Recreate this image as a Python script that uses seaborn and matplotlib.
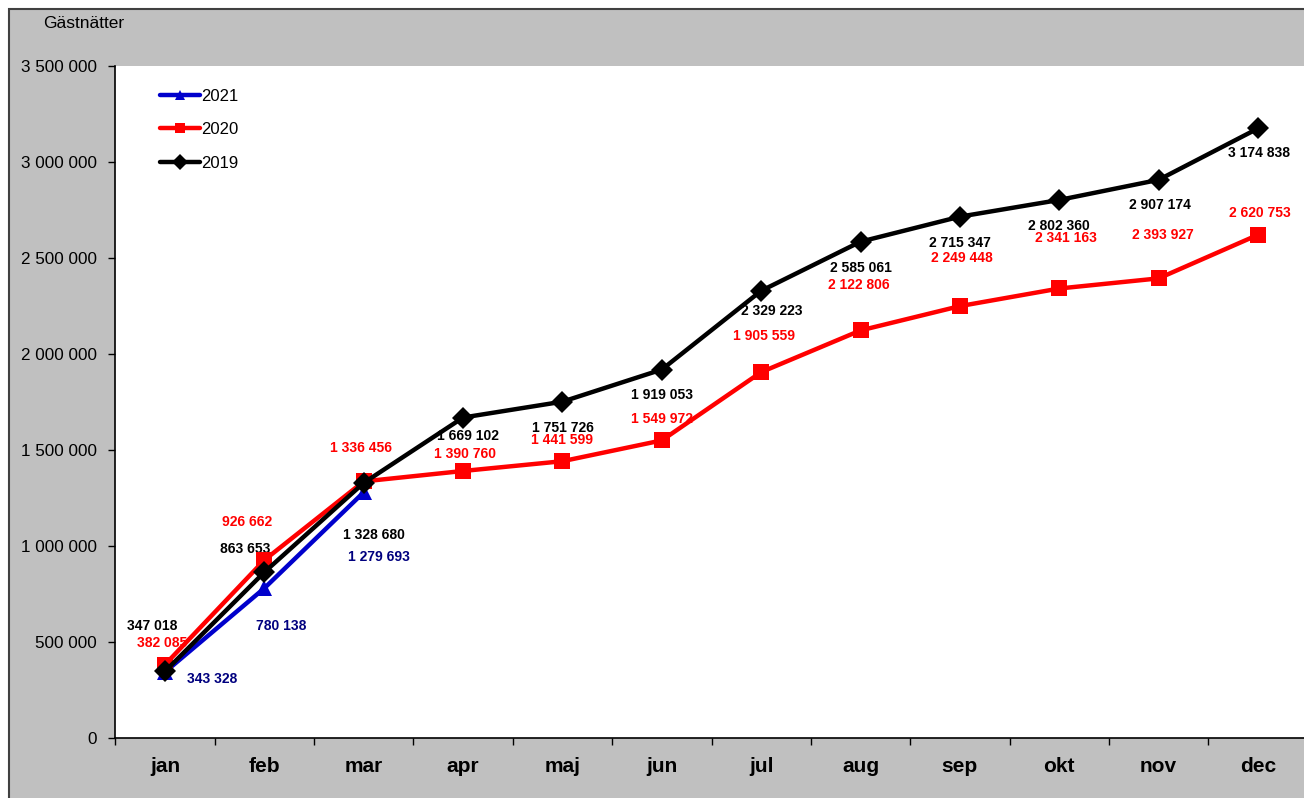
import numpy as np
import pandas as pd
import matplotlib
matplotlib.use("Agg")
import matplotlib.pyplot as plt
from matplotlib.patches import Rectangle
from matplotlib.ticker import FuncFormatter, FixedLocator
import seaborn as sns

# --- data ---
months = ["jan", "feb", "mar", "apr", "maj", "jun",
          "jul", "aug", "sep", "okt", "nov", "dec"]
years = ["2021", "2020", "2019"]
v2019 = [347018, 863653, 1328680, 1669102, 1751726, 1919053,
         2329223, 2585061, 2715347, 2802360, 2907174, 3174838]
v2020 = [382085, 926662, 1336456, 1390760, 1441599, 1549972,
         1905559, 2122806, 2249448, 2341163, 2393927, 2620753]
v2021 = [343328, 780138, 1279693]
yticks = [0, 500000, 1000000, 1500000, 2000000, 2500000, 3000000, 3500000]

# label offsets in pixels (dx, dy), placement only
off2019 = [(-13, 45), (-19, 23), (10, -52), (5, -18), (0, -26), (0, -25),
           (11, -20), (0, -26), (0, -26), (0, -26), (1, -25), (1, -25)]
off2020 = [(-3, 22), (-17, 38), (-3, 33), (2, 17), (0, 21), (0, 21),
           (3, 36), (-2, 45), (2, 48), (7, 50), (4, 43), (2, 22)]
off2021 = [(47, -7), (17, -38), (15, -65)]

series = {"2021": v2021, "2020": v2020, "2019": v2019}
offsets = {"2021": off2021, "2020": off2020, "2019": off2019}
line_colors = {"2021": "#0000CC", "2020": "#FF0000", "2019": "#000000"}
label_colors = {"2021": "#00007F", "2020": "#FF0000", "2019": "#000000"}
markers = {"2021": "^", "2020": "s", "2019": "D"}

rows = []
for yr in years:
    for i, v in enumerate(series[yr]):
        rows.append({"manad": i, "ar": yr, "gastnatter": v})
df = pd.DataFrame(rows)

sns.set_theme(style="white")
plt.rcParams["font.family"] = ["Liberation Sans", "DejaVu Sans"]
plt.rcParams["text.color"] = "black"

fig = plt.figure(figsize=(13.04, 7.98), dpi=100, facecolor="white")
W, H = 1304, 798
bg = Rectangle((9 / W, -0.01), 1.0, (H - 9) / H + 0.01,
               transform=fig.transFigure, facecolor="#C0C0C0",
               edgecolor="#404040", linewidth=1.5, zorder=-10)
fig.patches.append(bg)

ax = fig.add_axes([115.3 / W, (H - 738) / H, 1192.4 / W, 672 / H])
ax.set_facecolor("white")

sns.lineplot(data=df, x="manad", y="gastnatter", hue="ar", style="ar",
             hue_order=years, style_order=years, palette=line_colors,
             markers=markers, dashes=False, linewidth=3.2, markersize=11,
             markeredgewidth=0, ax=ax, sort=False, zorder=3)

for yr in years:
    for i, v in enumerate(series[yr]):
        s = f"{v:,}".replace(",", " ")
        ax.annotate(s, (i, v), xytext=offsets[yr][i], textcoords="offset pixels",
                    ha="center", va="center", fontsize=10, fontweight="bold",
                    color=label_colors[yr], zorder=2)

ax.set_xlim(-0.5, len(months) - 0.5)
ax.set_ylim(0, 3500000)
ax.set_yticks(yticks)
ax.yaxis.set_major_formatter(FuncFormatter(lambda v, p: f"{int(v):,}".replace(",", " ")))
ax.tick_params(axis="y", direction="out", length=5, width=1, labelsize=12.3,
               pad=8, colors="black", left=True)
ax.set_xticks(range(len(months)))
ax.set_xticklabels(months, fontsize=15, fontweight="bold", color="black")
ax.tick_params(axis="x", which="major", length=0, pad=14)
ax.xaxis.set_minor_locator(FixedLocator(np.arange(-0.5, len(months), 1.0)))
ax.tick_params(axis="x", which="minor", direction="out", length=5, width=1,
               bottom=True, color="black")
ax.set_xlabel("")
ax.set_ylabel("")
for side in ["top", "right"]:
    ax.spines[side].set_visible(False)
for side in ["left", "bottom"]:
    ax.spines[side].set_color("black")
    ax.spines[side].set_linewidth(1.2)

handles, labels = ax.get_legend_handles_labels()
leg = ax.legend(handles, labels, loc="upper left", bbox_to_anchor=(0.0377, 0.966),
                frameon=False, fontsize=12, handlelength=2.4, handletextpad=0.05,
                labelspacing=1.1, borderpad=0, borderaxespad=0, markerscale=0.7)
for t in leg.get_texts():
    t.set_color("black")

fig.text(43 / W, 1 - 23 / H, "Gästnätter", fontsize=12.5, ha="left", va="center",
         color="black")

fig.savefig("out.png", dpi=100)
